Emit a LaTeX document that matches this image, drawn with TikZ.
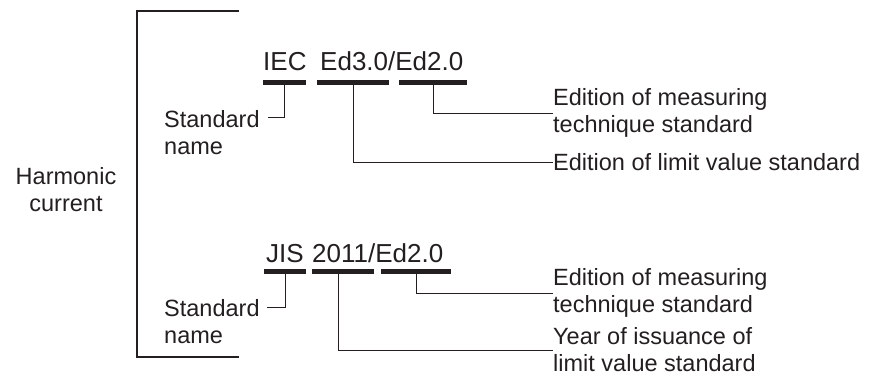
\documentclass[tikz,border=0pt]{standalone}
\usepackage{fontspec}
\setmainfont{Liberation Sans}
\definecolor{ink}{HTML}{231F20}

\begin{document}
\begin{tikzpicture}[
  x=1pt, y=-1pt,
  every node/.style={text=ink, inner sep=0pt},
  code/.style={font=\fontsize{26}{30}\selectfont, anchor=base west},
  lbl/.style={font=\fontsize{23.5}{27}\selectfont, align=left, anchor=west},
  bar/.style={fill=ink, minimum height=5pt, minimum width=#1},
  lead/.style={draw=ink, line width=0.9pt}
]
\useasboundingbox (0,0) rectangle (872,378);

\node[lbl, align=center, anchor=center] (hc) at (66,190) {Harmonic\\current};
\coordinate (bt) at (239,11);
\coordinate (bb) at (239,357);
\draw[lead, line width=1.1pt] (bt) -| ([xshift=-102pt]bb) -- (bb);

\node[code] (iec) at (263,70) {IEC};
\node[code] (ied) at (320,70) {Ed3.0/Ed2.0};
\node[bar=43] (b1) at (284.5,82) {};
\node[bar=72] (b2) at (353,82) {};
\node[bar=68] (b3) at (433,82) {};
\node[lbl] (sn1) at (164,133) {Standard\\name};
\node[lbl] (m1) at (553,113) {Edition of measuring\\technique standard};
\node[lbl] (lv) at (553,162) {Edition of limit value standard};
\coordinate (s1) at (268,117);
\draw[lead] (b1.south) |- (s1);
\draw[lead] (b2.south) |- (lv.west);
\draw[lead] (b3.south) |- (m1.west);

\node[code] (jis) at (266,262) {JIS};
\node[code] (jed) at (312,262) {2011/Ed2.0};
\node[bar=42] (b4) at (285,271) {};
\node[bar=62] (b5) at (343,271) {};
\node[bar=70] (b6) at (416,271) {};
\node[lbl] (sn2) at (164,322) {Standard\\name};
\node[lbl] (m2) at (553,293) {Edition of measuring\\technique standard};
\node[lbl] (yr) at (553,350) {Year of issuance of\\limit value standard};
\coordinate (s2) at (267,307);
\draw[lead] (b4.south) |- (s2);
\draw[lead] ([xshift=-5pt]b5.south) |- (yr.west);
\draw[lead] (b6.south) |- (m2.west);
\end{tikzpicture}
\end{document}
